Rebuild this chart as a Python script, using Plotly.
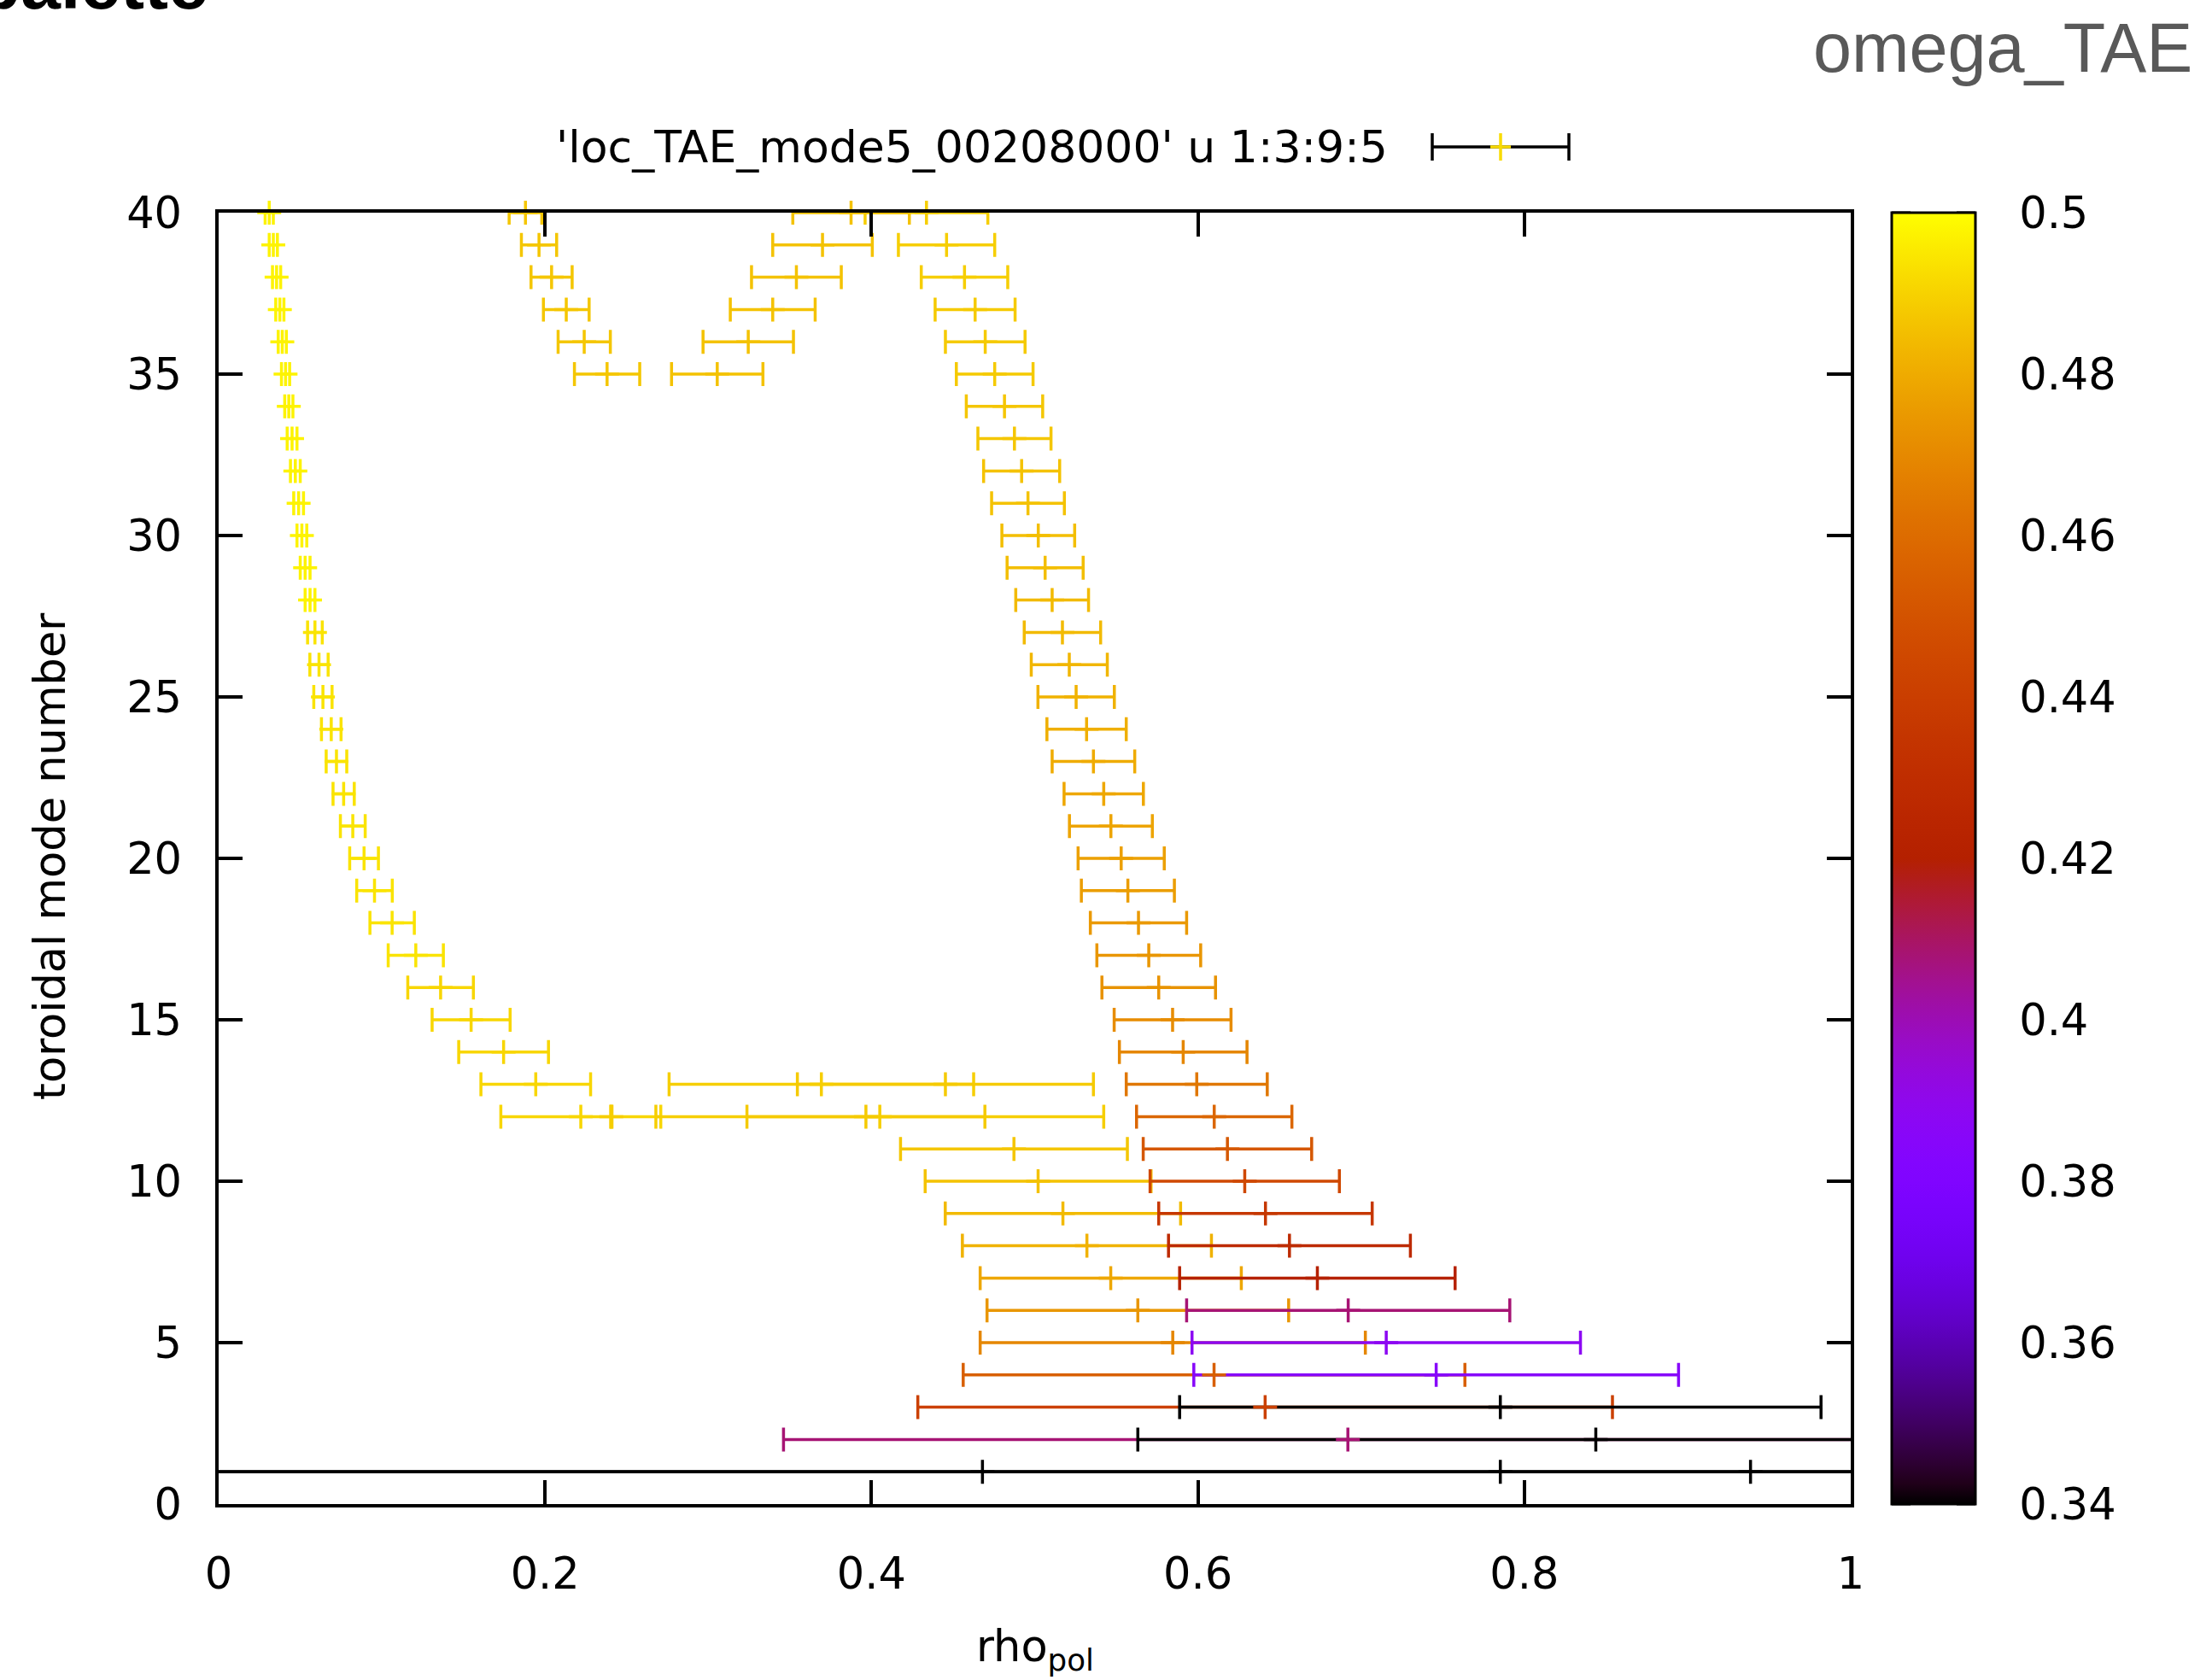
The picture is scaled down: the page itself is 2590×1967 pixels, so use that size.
import math
import plotly.graph_objects as go

# ---------------- data ----------------
# inner branch close to the axis
core_n = [40, 39, 38, 37, 36, 35, 34, 33, 32, 31, 30, 29, 28, 27, 26, 25, 24, 23, 22, 21,
          20, 19, 18, 17, 16, 15, 14, 13, 12]
core_rho = [0.031, 0.0335, 0.0355, 0.0375, 0.039, 0.041, 0.043, 0.045, 0.047, 0.049, 0.051,
            0.053, 0.056, 0.059, 0.0615, 0.0639, 0.069, 0.0722, 0.0766, 0.0822, 0.0891,
            0.0955, 0.1063, 0.1208, 0.136, 0.1547, 0.1746, 0.1943, 0.2219]
core_dr = [0.0025, 0.0025, 0.0025, 0.0025, 0.0025, 0.0025, 0.0025, 0.003, 0.003, 0.003,
           0.003, 0.003, 0.003, 0.0045, 0.0056, 0.0056, 0.006, 0.0063, 0.0065, 0.0076,
           0.0088, 0.0109, 0.0136, 0.0169, 0.0201, 0.0239, 0.0275, 0.0336, 0.049]
core_omega = [0.4975, 0.4975, 0.4975, 0.4975, 0.4975, 0.4975, 0.4975, 0.4975, 0.4975,
              0.4975, 0.4975, 0.4975, 0.4975, 0.494, 0.494, 0.494, 0.494, 0.494, 0.494,
              0.494, 0.494, 0.494, 0.494, 0.494, 0.491, 0.491, 0.491, 0.491, 0.491]

# upper V-shaped pair of branches (n = 35..40)
upl_n = [40, 39, 38, 37, 36, 35]
upl_rho = [0.188, 0.1963, 0.204, 0.213, 0.224, 0.238]
upl_dr = [0.010, 0.0108, 0.0126, 0.014, 0.016, 0.020]
upl_omega = [0.487, 0.487, 0.487, 0.487, 0.487, 0.487]

upm_n = [40, 39, 38, 37, 36, 35]
upm_rho = [0.3875, 0.370, 0.354, 0.3395, 0.3245, 0.3055]
upm_dr = [0.0357, 0.0305, 0.0275, 0.026, 0.0277, 0.028]
upm_omega = [0.486, 0.486, 0.486, 0.486, 0.486, 0.486]

# main outer branch
main_n = [40, 39, 38, 37, 36, 35, 34, 33, 32, 31, 30, 29, 28, 27, 26, 25, 24, 23, 22, 21,
          20, 19, 18, 17, 16, 15, 14, 13, 12, 11, 10, 9, 8, 7, 6, 5, 4, 3, 2, 1]
main_rho = [0.4337, 0.446, 0.457, 0.4635, 0.4697, 0.4755, 0.4815, 0.4876, 0.4920, 0.4959,
            0.5022, 0.5064, 0.5107, 0.517, 0.5212, 0.5254, 0.5318, 0.536, 0.5423, 0.5467,
            0.553, 0.5571, 0.5636, 0.5699, 0.5760, 0.5845, 0.591, 0.5993, 0.61, 0.6181,
            0.6287, 0.6414, 0.6561, 0.6732, 0.6921, 0.7154, 0.746, 0.7853, 0.8438, 0.9386]
main_dr = [0.0376, 0.0295, 0.0265, 0.0245, 0.0244, 0.0235, 0.0234, 0.0224, 0.0233, 0.0223,
           0.0223, 0.0233, 0.0223, 0.0234, 0.0233, 0.0234, 0.0243, 0.0253, 0.0243, 0.0254,
           0.0264, 0.0285, 0.0295, 0.0318, 0.0348, 0.0358, 0.0391, 0.0432, 0.0476, 0.0516,
           0.058, 0.0654, 0.0741, 0.0844, 0.099, 0.119, 0.1485, 0.1965, 0.2806, 0.95]
main_omega = [0.489, 0.489, 0.489, 0.488, 0.488, 0.488, 0.487, 0.487, 0.486, 0.486, 0.485,
              0.485, 0.484, 0.484, 0.483, 0.482, 0.481, 0.480, 0.479, 0.478, 0.477, 0.476,
              0.475, 0.474, 0.473, 0.471, 0.469, 0.464, 0.458, 0.452, 0.445, 0.436, 0.428,
              0.421, 0.408, 0.388, 0.385, 0.33, 0.33, 0.33]

# second (low-n) branch
sec_n = [13, 13, 12, 12, 11, 10, 9, 8, 7, 6, 5, 4, 3, 2, 1]
sec_rho = [0.3693, 0.4453, 0.3966, 0.4051, 0.4873, 0.5021, 0.5173, 0.532, 0.5466, 0.5632,
           0.5846, 0.6099, 0.6412, 0.6919, 0.7853]
sec_dr = [0.0933, 0.0907, 0.0729, 0.1372, 0.0695, 0.0692, 0.0721, 0.0763, 0.080, 0.0924,
          0.118, 0.1537, 0.2128, 0.3458, 0.80]
sec_omega = [0.489, 0.488, 0.488, 0.489, 0.487, 0.486, 0.484, 0.482, 0.479, 0.474, 0.469,
             0.455, 0.441, 0.408, 0.33]

# isolated points
ext_n = [12, 1]
ext_rho = [0.2406, 0.468]
ext_dr = [0.0004, 0.55]
ext_omega = [0.489, 0.33]

cb_tickvals = [0.34, 0.36, 0.38, 0.40, 0.42, 0.44, 0.46, 0.48, 0.50]
cb_ticktext = ["0.34", "0.36", "0.38", "0.4", "0.42", "0.44", "0.46", "0.48", "0.5"]
CMIN, CMAX = 0.34, 0.50

LEGEND_TEXT = "'loc_TAE_mode5_00208000' u 1:3:9:5"

# ---------------- gnuplot palette rgbformulae 7,5,15 ----------------
def gp_rgb(t):
    t = min(max(t, 0.0), 1.0)
    r = math.sqrt(t)
    g = t ** 3
    b = max(0.0, math.sin(2 * math.pi * t))
    return "rgb(%d,%d,%d)" % (round(255 * r), round(255 * g), round(255 * b))


def omega_color(w):
    return gp_rgb((w - CMIN) / (CMAX - CMIN))


colorscale = [[i / 64, gp_rgb(i / 64)] for i in range(65)]

all_n = core_n + upl_n + upm_n + main_n + sec_n + ext_n
all_rho = core_rho + upl_rho + upm_rho + main_rho + sec_rho + ext_rho
all_dr = core_dr + upl_dr + upm_dr + main_dr + sec_dr + ext_dr
all_w = core_omega + upl_omega + upm_omega + main_omega + sec_omega + ext_omega

order = sorted(range(len(all_n)), key=lambda i: -all_w[i])

fig = go.Figure()
LW = 3.5
# error bars first (like gnuplot), lower omega drawn on top
for i in order:
    fig.add_trace(go.Scatter(
        x=[all_rho[i]], y=[all_n[i]], mode="markers",
        marker=dict(size=1, color="rgba(0,0,0,0)"),
        error_x=dict(type="data", array=[all_dr[i]], symmetric=True,
                     color=omega_color(all_w[i]), thickness=LW, width=14),
        showlegend=False, hoverinfo="skip"))

# point markers last
fig.add_trace(go.Scatter(
    x=[all_rho[i] for i in order], y=[all_n[i] for i in order], mode="markers",
    marker=dict(symbol="cross-thin", size=20,
                color=[all_w[i] for i in order], coloraxis="coloraxis",
                line=dict(width=LW, color=[all_w[i] for i in order], coloraxis="coloraxis")),
    cliponaxis=False, showlegend=False))

W, H = 2590, 1967
L, R, T, B = 256, 2167, 249, 1761
pw, ph = R - L, B - T


def px(x):
    return (x - L) / pw


def py(y):
    return (B - y) / ph


FONT = "DejaVu Sans"
fsz = 51
axis_common = dict(ticks="inside", ticklen=28, tickwidth=LW, tickcolor="black",
                   showline=True, linewidth=LW, linecolor="black", mirror="allticks",
                   showgrid=False, zeroline=False,
                   tickfont=dict(family=FONT, size=fsz, color="black"))

cb_left = px(2215)
cb_right = px(2313)

fig.update_layout(
    width=W, height=H,
    margin=dict(l=L, r=W - R, t=T, b=H - B, pad=0, autoexpand=False),
    paper_bgcolor="white", plot_bgcolor="white",
    xaxis=dict(range=[0, 1], tick0=0, dtick=0.2, ticklabelstandoff=34, **axis_common),
    yaxis=dict(range=[0, 40], tick0=0, dtick=5, ticklabelstandoff=29, **axis_common),
    coloraxis=dict(
        cmin=CMIN, cmax=CMAX, colorscale=colorscale,
        colorbar=dict(x=cb_left, xanchor="left", xpad=0, ypad=0,
                      y=0.5, yanchor="middle", len=1, lenmode="fraction",
                      thickness=2313 - 2215, thicknessmode="pixels",
                      outlinewidth=3, outlinecolor="black",
                      tickvals=cb_tickvals, ticktext=cb_ticktext,
                      ticks="outside", ticklen=40, tickcolor="rgba(0,0,0,0)",
                      tickfont=dict(family=FONT, size=fsz, color="black"))),
)

shapes = []
# inner colorbar ticks on both edges
tk = 22 / pw
for v in cb_tickvals:
    yy = (v - CMIN) / (CMAX - CMIN)
    shapes.append(dict(type="line", xref="paper", yref="paper", x0=cb_left, x1=cb_left + tk,
                       y0=yy, y1=yy, line=dict(color="black", width=3)))
    shapes.append(dict(type="line", xref="paper", yref="paper", x0=cb_right - tk, x1=cb_right,
                       y0=yy, y1=yy, line=dict(color="black", width=3)))

# legend key sample (black bar with caps and coloured +)
ky = py(172)
kx0, kx1 = px(1677), px(1837)
kc = (kx0 + kx1) / 2
cap = 16 / ph
arm = 12 / pw
shapes += [
    dict(type="line", xref="paper", yref="paper", x0=kx0, x1=kx1, y0=ky, y1=ky,
         line=dict(color="black", width=LW)),
    dict(type="line", xref="paper", yref="paper", x0=kx0, x1=kx0, y0=ky - cap, y1=ky + cap,
         line=dict(color="black", width=LW)),
    dict(type="line", xref="paper", yref="paper", x0=kx1, x1=kx1, y0=ky - cap, y1=ky + cap,
         line=dict(color="black", width=LW)),
    dict(type="line", xref="paper", yref="paper", x0=kc - arm, x1=kc + arm, y0=ky, y1=ky,
         line=dict(color=omega_color(0.492), width=LW)),
    dict(type="line", xref="paper", yref="paper", x0=kc, x1=kc, y0=ky - cap, y1=ky + cap,
         line=dict(color=omega_color(0.492), width=LW)),
]
fig.update_layout(shapes=shapes)

annotations = [
    dict(text=LEGEND_TEXT, x=px(1627), y=ky, xanchor="right", yanchor="middle",
         font=dict(family=FONT, size=52, color="black")),
    dict(text="omega_TAE", x=px(2569), y=py(56), xanchor="right", yanchor="middle",
         font=dict(family="Liberation Sans", size=81, color="#595959")),
    dict(text="<b>palette</b>", x=px(246), y=py(30), xanchor="right", yanchor="bottom",
         font=dict(family="Liberation Sans", size=84, color="black")),
    dict(text="toroidal mode number", x=px(58), y=py(1003), textangle=-90,
         xanchor="center", yanchor="middle",
         font=dict(family=FONT, size=fsz, color="black")),
    dict(text="rho<sub>pol</sub>", x=px(1212), y=py(1896), xanchor="center", yanchor="top",
         font=dict(family=FONT, size=fsz, color="black")),
]
for a in annotations:
    a.update(xref="paper", yref="paper", showarrow=False)
fig.update_layout(annotations=annotations)

fig.write_html("out.html", config={"displayModeBar": False},
               post_script="document.body.style.margin='0';")
